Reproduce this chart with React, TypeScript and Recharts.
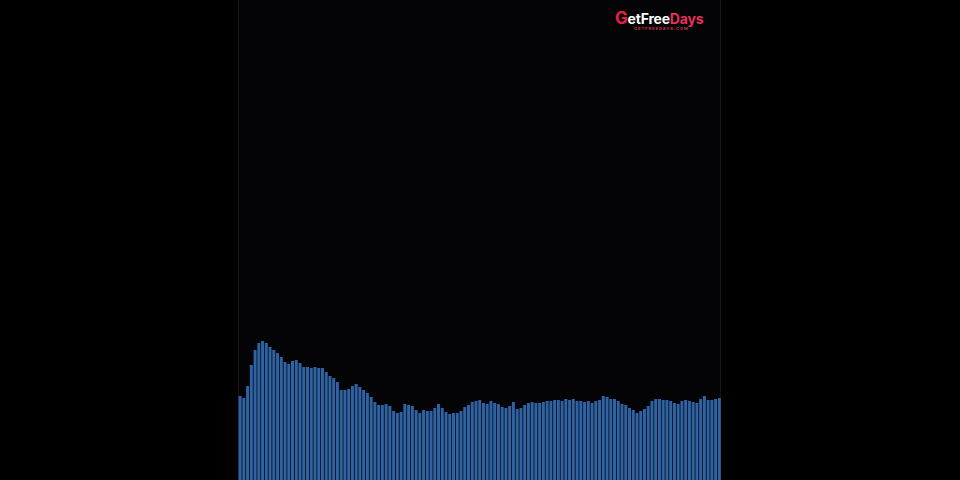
import React from "react";
import { BarChart, Bar, XAxis, YAxis } from "recharts";

const frameValues: number[] = [
  84, 82, 94, 115, 130, 137, 139, 137, 133, 130,
  127, 123, 118, 116, 119, 120, 117, 113, 113, 112,
  113, 112, 112, 108, 104, 102, 98, 90, 90, 91,
  94, 96, 93, 90, 87, 83, 78, 75, 75, 76,
  74, 69, 67, 68, 76, 75, 74, 70, 67, 70,
  69, 69, 72, 76, 72, 68, 66, 67, 67, 69,
  73, 75, 78, 79, 80, 77, 76, 79, 77, 76,
  73, 72, 74, 78, 71, 72, 75, 77, 78, 77,
  77, 78, 79, 79, 80, 80, 79, 81, 80, 81,
  79, 79, 78, 79, 77, 79, 80, 84, 83, 81,
  81, 79, 76, 75, 72, 70, 67, 69, 71, 74,
  79, 81, 81, 80, 80, 79, 77, 76, 79, 80,
  79, 78, 77, 81, 84, 80, 80, 81, 82,
];
const frameLabels: string[] = frameValues.map((_, i) => String(i + 1));
const yDomain: [number, number] = [0, 480];

const data = frameValues.map((v, i) => ({ frame: frameLabels[i], value: v }));

export default function App() {
  return (
    <div
      style={{
        position: "fixed",
        left: 0,
        top: 0,
        width: 960,
        height: 480,
        background: "#000000",
        overflow: "hidden",
      }}
    >
      <div
        style={{
          position: "absolute",
          left: 238,
          top: 0,
          width: 483,
          height: 480,
          background: "#040407",
          borderLeft: "1px solid #18181c",
          borderRight: "1px solid #18181c",
          boxSizing: "border-box",
        }}
      />
      <div style={{ position: "absolute", left: 238, top: 0 }}>
        <BarChart
          width={483}
          height={480}
          data={data}
          margin={{ top: 0, right: 0, bottom: 0, left: 0 }}
          barCategoryGap="16%"
        >
          <XAxis dataKey="frame" hide />
          <YAxis hide domain={yDomain} />
          <Bar dataKey="value" fill="#2f62a2" isAnimationActive={false} />
        </BarChart>
      </div>
      <div
        style={{
          position: "absolute",
          left: 615,
          top: 11,
          fontFamily: "Inter, 'Open Sans', sans-serif",
          fontWeight: 700,
          fontSize: 14,
          lineHeight: "14px",
          letterSpacing: -0.2,
          whiteSpace: "nowrap",
        }}
      >
        <span style={{ color: "#e8203f", fontSize: 17 }}>G</span>
        <span style={{ color: "#ffffff" }}>etFree</span>
        <span style={{ color: "#e8305a" }}>Days</span>
      </div>
      <div
        style={{
          position: "absolute",
          left: 634,
          top: 27,
          fontFamily: "Inter, 'Open Sans', sans-serif",
          fontWeight: 700,
          fontSize: 4,
          lineHeight: "4px",
          color: "#d0304f",
          letterSpacing: 1,
          whiteSpace: "nowrap",
        }}
      >
        GETFREEDAYS.COM
      </div>
    </div>
  );
}
